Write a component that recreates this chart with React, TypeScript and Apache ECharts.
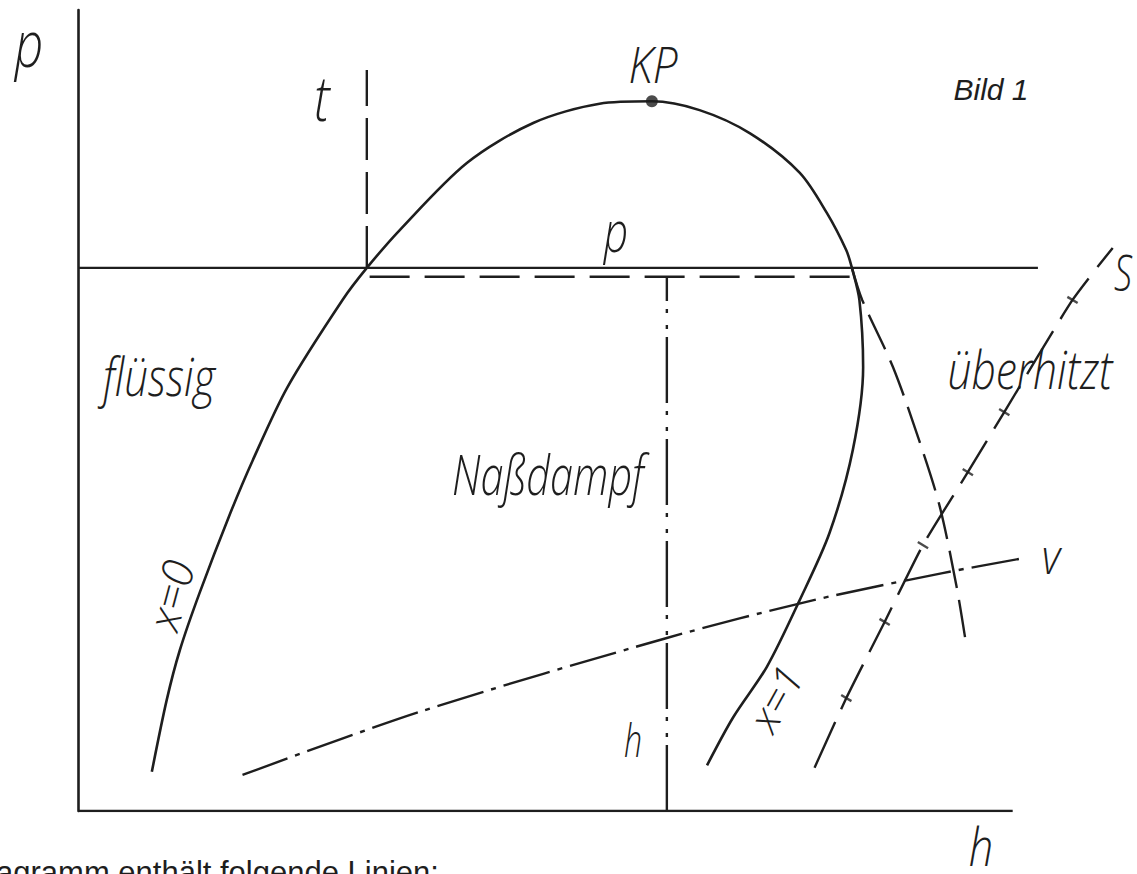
import React, { useEffect, useRef } from "react";
import * as echarts from "echarts";

// ---- Data (h: enthalpy units, p: pressure units; the drawn h axis runs 0..100) ----
// Saturation curve: boiling line x=0 -> critical point -> dew line x=1
const satH = [7.9, 9.5, 10.9, 13.0, 16.3, 18.7, 22.4, 28.3, 30.9, 34.4, 41.6, 48.7, 55.8, 61.4, 66.5, 71.9, 77.2, 80.1, 82.2, 82.8, 83.6, 84.0, 82.9, 80.4, 77.2, 73.7, 70.1, 67.3];
const satP = [4.9, 13.9, 20.1, 27.2, 37.2, 43.8, 52.9, 63.8, 67.8, 72.5, 80.9, 85.9, 88.3, 88.6, 87.5, 84.6, 79.7, 74.7, 70.0, 67.8, 63.8, 55.4, 45.1, 34.7, 26.3, 18.0, 11.7, 5.7];
// Critical point
const kpH = [61.4];
const kpP = [88.6];
// Isobar p (solid) and its continuation in the superheated region (dashed)
const isobarP = 67.8;
const isobarH = [0, 102.7];
const isobarSupH = [82.8, 83.9, 87.2, 90.1, 92.2, 94.0, 94.9];
const isobarSupP = [67.8, 63.8, 55.4, 45.9, 38.0, 28.0, 21.7];
// Isotherm t in wet steam (dashed, drawn just below the isobar)
const isothermWetP = 66.7;
const isothermWetH = [31.2, 82.6];
// Isotherm t in the liquid region (vertical dashed)
const isothermLiqH = 30.9;
const isothermLiqP = [67.8, 92.5];
// Isenthalpe h (dash-dot-dot)
const isenthH = 63.0;
const isenthP = [0, 66.7];
// Isochore v (dash-dot)
const isochoreH = [17.6, 36.6, 63.0, 78.6, 92.5, 101.3];
const isochoreP = [4.5, 12.4, 21.6, 26.3, 29.7, 31.6];
// Isentrope s (dashed with cross marks)
const isentropeH = [78.8, 82.2, 86.3, 90.4, 95.2, 99.1, 106.4, 110.7];
const isentropeP = [5.4, 14.1, 23.6, 33.2, 42.3, 49.8, 63.8, 70.3];
// Axis extents
const hAxisEnd = 100;
const hViewMax = 113.3;
const pViewMax = 100;

const zip = (a: number[], b: number[]) => a.map((v, i) => [v, b[i]]);

const INK = "#1e1e1e";
const HAND = "'Open Sans', 'DejaVu Sans', sans-serif";

function label(text: string, x: number, y: number, fontSize: number, scaleX = 1, rotationDeg = 0) {
  return {
    type: "text",
    x,
    y,
    scaleX,
    rotation: (rotationDeg * Math.PI) / 180,
    style: {
      text,
      fill: INK,
      fontSize,
      lineHeight: Math.round(fontSize * 0.8),
      fontFamily: HAND,
      fontStyle: "italic",
      fontWeight: 300,
      align: "center",
      verticalAlign: "middle",
    },
  };
}

export default function App() {
  const ref = useRef<HTMLDivElement>(null);
  useEffect(() => {
    if (!ref.current) return;
    const chart = echarts.init(ref.current, undefined, { renderer: "svg" });
    const lw = 2.6;
    const tw = 2.4;
    chart.setOption({
      animation: false,
      backgroundColor: "#ffffff",
      grid: { left: 78, top: 10, width: 1059.4, height: 801 },
      xAxis: {
        type: "value",
        min: 0,
        max: hViewMax,
        axisLine: { show: false },
        axisTick: { show: false },
        axisLabel: { show: false },
        splitLine: { show: false },
      },
      yAxis: {
        type: "value",
        min: 0,
        max: pViewMax,
        axisLine: { show: true, onZero: false, lineStyle: { color: INK, width: 2.6 } },
        axisTick: { show: false },
        axisLabel: { show: false },
        splitLine: { show: false },
      },
      series: [
        {
          name: "h-Achse",
          type: "line",
          data: [[0, 0], [hAxisEnd, 0]],
          showSymbol: false,
          lineStyle: { color: INK, width: 2.6 },
        },
        {
          name: "Sättigungslinie",
          type: "line",
          data: zip(satH, satP),
          smooth: 0.3,
          showSymbol: false,
          lineStyle: { color: INK, width: lw },
        },
        {
          name: "Isobare p",
          type: "line",
          data: isobarH.map((h) => [h, isobarP]),
          showSymbol: false,
          lineStyle: { color: INK, width: tw },
        },
        {
          name: "Isobare p (überhitzt)",
          type: "line",
          data: zip(isobarSupH, isobarSupP),
          smooth: 0.3,
          showSymbol: false,
          lineStyle: { color: INK, width: tw, type: [38, 12] },
        },
        {
          name: "Isotherme t (Naßdampf)",
          type: "line",
          data: isothermWetH.map((h) => [h, isothermWetP]),
          showSymbol: false,
          lineStyle: { color: INK, width: tw, type: [40, 15] },
        },
        {
          name: "Isotherme t",
          type: "line",
          data: isothermLiqP.map((p) => [isothermLiqH, p]),
          showSymbol: false,
          lineStyle: { color: INK, width: tw, type: [42, 12] },
        },
        {
          name: "Isenthalpe h",
          type: "line",
          data: isenthP.map((p) => [isenthH, p]),
          showSymbol: false,
          lineStyle: { color: INK, width: tw, type: [66, 8, 4, 12, 4, 8] },
        },
        {
          name: "Isochore v",
          type: "line",
          data: zip(isochoreH, isochoreP),
          smooth: 0.3,
          showSymbol: false,
          lineStyle: { color: INK, width: tw, type: [48, 8, 5, 8] },
        },
        {
          name: "Isentrope s",
          type: "line",
          data: zip(isentropeH, isentropeP),
          smooth: 0.2,
          showSymbol: false,
          lineStyle: { color: INK, width: tw, type: [50, 14] },
        },
        {
          name: "Isentrope s Marken",
          type: "scatter",
          data: zip(isentropeH.slice(1, -1), isentropeP.slice(1, -1)),
          symbol: "rect",
          symbolSize: [12, 2.4],
          symbolRotate: -31,
          itemStyle: { color: INK },
        },
        {
          name: "KP",
          type: "scatter",
          data: zip(kpH, kpP),
          symbol: "circle",
          symbolSize: 12,
          itemStyle: { color: INK },
        },
      ],
      graphic: [
        label("p", 29, 42, 64, 0.78),
        label("t", 322, 97, 62, 0.8),
        label("KP", 653, 64, 49, 0.9),
        label("p", 616, 230, 57, 0.75),
        label("S", 1123, 271, 50, 0.72),
        label("v", 1051, 555, 50, 0.85),
        label("h", 981, 845, 53, 0.82),
        label("h", 633, 740, 46, 0.7),
        label("flüssig", 159, 375, 54, 0.78),
        label("Naßdampf", 548, 473, 56, 0.74),
        label("überhitzt", 1030, 368, 54, 0.79),
        label("x=0", 170, 595, 44, 1, 75),
        label("x=1", 775, 698, 42, 1, 61),
        {
          type: "text",
          x: 991,
          y: 89,
          style: {
            text: "Bild 1",
            fill: INK,
            fontSize: 30,
            fontFamily: "'Liberation Sans', Arial, sans-serif",
            fontStyle: "italic",
            align: "center",
            verticalAlign: "middle",
          },
        },
        {
          type: "text",
          x: -97,
          y: 872,
          style: {
            text: "Das Diagramm enthält folgende Linien:",
            fill: INK,
            fontSize: 31,
            fontFamily: "'Liberation Sans', Arial, sans-serif",
            align: "left",
            verticalAlign: "middle",
          },
        },
      ],
    });
    return () => chart.dispose();
  }, []);
  return (
    <div
      ref={ref}
      style={{ position: "absolute", left: 0, top: 0, width: 1137, height: 874, background: "#fff" }}
    />
  );
}
